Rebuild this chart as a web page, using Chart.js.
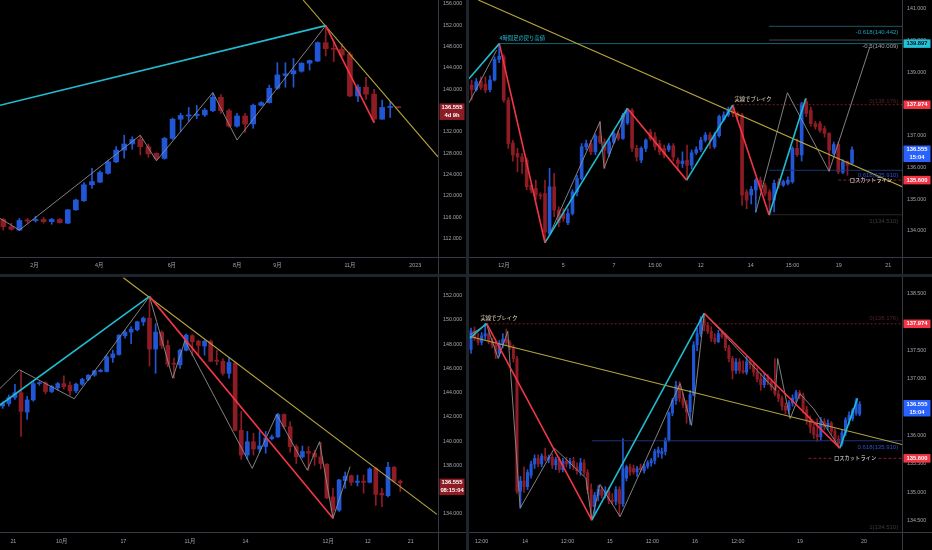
<!DOCTYPE html>
<html><head><meta charset="utf-8">
<script src="https://cdn.jsdelivr.net/npm/chart.js@4.4.1/dist/chart.umd.min.js"></script>
<style>
html,body{margin:0;padding:0;background:#20242d;width:932px;height:550px;overflow:hidden}
.p{position:absolute;background:#000}
.p canvas{display:block}
</style></head><body>
<div class="p" style="left:0;top:0;width:466px;height:274px"><canvas id="cTL" width="466" height="274"></canvas></div>
<div class="p" style="left:469px;top:0;width:463px;height:274px"><canvas id="cTR" width="463" height="274"></canvas></div>
<div class="p" style="left:0;top:277px;width:466px;height:273px"><canvas id="cBL" width="466" height="273"></canvas></div>
<div class="p" style="left:469px;top:277px;width:463px;height:273px"><canvas id="cBR" width="463" height="273"></canvas></div>
<script>
// ===== Weekly (top-left) =====
const tlOpen=[115.6,114.25,113.6,115.5,115.4,115.6,115.2,115.6,114.9,117.4,119.1,122.1,122.6,124.25,126.4,128.6,129.75,130.6,129.25,128.0,127.06,130.8,134.4,135.0,135.1,135.2,136.0,138.5,136.0,133.1,135.0,133.5,137.0,137.5,140.2,142.6,142.9,143.4,144.9,145.3,148.75,147.7,147.5,146.6,138.75,140.4,139.1,134.4,136.6,136.6];
const tlHigh=[115.8,114.9,115.8,115.8,116.2,116.0,115.8,115.8,117.5,119.4,122.5,125.2,124.7,126.75,129.25,131.4,131.1,131.25,129.75,128.1,131.0,134.6,135.5,136.6,137.0,136.4,139.25,139.0,136.3,135.5,135.5,137.25,137.7,140.8,145.0,145.0,145.8,145.0,145.5,148.9,151.95,148.9,148.6,147.0,140.9,142.25,140.0,138.0,137.7,136.7];
const tlLow=[113.6,113.6,113.5,114.9,115.1,114.9,114.7,114.9,114.8,117.3,119.0,121.4,122.5,124.1,126.25,127.1,128.75,127.7,127.25,126.75,126.9,130.6,132.1,134.0,134.5,134.9,135.8,135.5,132.9,132.9,131.9,132.7,136.9,137.4,140.0,140.4,140.4,143.2,143.6,145.2,146.25,145.2,146.1,138.6,137.7,138.1,133.75,134.4,134.7,136.5];
const tlClose=[114.25,113.75,115.4,115.3,115.6,115.2,115.6,115.0,117.4,119.25,122.1,122.7,124.4,126.4,128.6,129.75,130.6,129.25,127.9,127.0,130.8,134.4,135.1,135.2,135.3,136.1,138.5,136.0,133.1,135.0,133.5,137.0,137.5,140.2,142.7,142.9,143.5,144.9,145.4,148.75,147.6,147.5,146.4,138.75,140.4,139.1,134.4,136.6,136.75,136.555];
const tlXTicks=[3.85,11.9,20.9,29.0,34.0,43.0,51.1];
const tlXLabels=['2月','4月','6月','8月','9月','11月','2023'];
const tlYTicks=[112,116,120,124,128,132,136,140,144,148,152,156];
const tlSwing=[[-0.41,137.0],[40,151.95],[46,133.75]];
const tlTrend=[[37.2,156.75],[53.93,127.35]];
const tlGray=[[-0.41,115.8],[2,113.6],[17,131.4],[19,126.6],[26,139.4],[29,130.5],[40,151.95]];

// ===== 4h (top-right) =====
const trOpen=[138.59,138.45,138.72,138.62,138.45,138.75,139.40,139.48,138.12,136.77,136.44,136.33,136.23,135.44,135.34,135.13,135.18,133.92,135.39,134.66,134.55,134.26,134.55,135.23,135.65,136.65,136.75,136.49,136.99,136.80,136.44,136.80,137.07,136.91,137.40,137.80,136.60,136.23,136.60,137.12,136.96,136.75,136.60,136.56,136.68,136.23,136.12,136.23,136.07,136.46,136.56,136.86,137.02,136.65,137.00,137.50,137.65,137.90,137.70,137.65,135.23,135.13,135.29,135.60,135.44,135.23,134.97,135.55,135.44,135.50,135.55,136.60,136.39,138.07,137.80,137.38,137.38,137.22,137.07,136.44,136.72,135.85,136.18,136.13];
const trHigh=[138.75,138.80,138.85,138.85,138.88,139.48,139.90,139.55,138.20,136.85,136.60,136.44,136.30,135.50,135.60,135.20,135.60,135.97,135.81,134.76,134.70,134.70,135.30,135.75,136.75,136.86,136.86,137.05,137.44,136.90,136.90,137.15,137.15,137.70,137.86,137.85,136.70,136.65,136.90,137.20,137.10,136.85,136.70,136.75,136.75,136.30,136.49,136.70,136.55,136.65,136.95,137.10,137.10,137.10,137.65,137.75,137.90,137.96,137.75,137.70,135.30,135.40,135.65,135.70,135.50,135.30,135.60,135.65,135.60,135.70,136.65,136.90,138.05,138.17,137.90,137.45,137.45,137.30,137.10,136.80,136.80,136.25,136.20,136.65];
const trLow=[138.12,138.40,138.45,138.35,138.38,138.72,139.30,138.05,136.60,136.20,135.86,135.81,135.30,135.20,134.97,135.00,133.63,133.87,134.45,134.13,134.30,134.20,134.50,135.10,135.60,136.55,136.40,136.40,136.75,135.97,136.35,136.75,136.85,136.88,137.35,136.50,136.20,136.15,136.50,136.85,136.55,136.40,136.30,136.50,136.20,135.90,136.00,135.60,135.95,136.40,136.50,136.80,136.60,136.60,136.95,137.45,137.60,137.60,137.45,134.80,134.70,134.85,134.59,135.30,135.10,134.50,134.60,135.35,135.40,135.45,135.50,136.35,136.20,137.60,137.30,137.20,137.10,136.95,135.88,136.40,135.80,135.80,135.75,136.10];
const trClose=[138.45,138.70,138.52,138.43,138.75,139.40,139.50,138.12,136.75,136.39,136.33,136.18,135.39,135.29,135.13,135.10,133.97,135.39,134.66,134.26,134.39,134.55,135.23,135.65,136.65,136.75,136.49,136.99,136.80,136.54,136.80,137.07,136.91,137.65,137.80,136.60,136.33,136.60,136.86,136.91,136.65,136.49,136.39,136.68,136.33,136.12,136.20,136.07,136.46,136.56,136.86,137.02,136.86,137.02,137.60,137.65,137.80,137.70,137.60,135.13,134.97,135.31,135.60,135.39,135.18,134.97,135.50,135.44,135.55,135.60,136.60,136.40,138.00,137.70,137.38,137.28,137.17,137.07,136.54,136.72,135.86,136.18,136.07,136.555];
const trXTicks=[7.05,20.0,31.05,40.0,50.0,60.9,70.0,80.1,90.9];
const trXLabels=['12月','5','7','15:00','12','14','15:00','19','21'];
const trYTicks=[134,135,136,137,138,139,140,141];
const trSwing=[[-0.6,138.79],[6.04,139.897],[16,133.63],[33.96,137.86],[46.9,135.6],[56.95,137.96],[64.9,134.5],[72.9,138.17]];
const trTrend=[[1.45,141.27],[94.0,135.39]];
const trGrayA=[[-0.6,138.03],[5.45,139.69]];
const trGrayB=[[17.1,133.92],[28,137.44],[28.9,135.97],[33.96,137.86]];
const trGrayC=[[62,134.59],[68.9,138.35],[78,135.88],[86.9,139.8]];

// ===== Daily (bottom-left) =====
const blOpen=[142.9,143.1,143.6,144.0,142.4,143.4,144.75,144.8,144.1,144.4,144.75,144.6,144.15,144.7,145.1,145.45,145.75,145.75,146.9,147.15,148.7,149.0,149.2,149.85,150.15,147.6,149.0,147.9,146.4,146.3,147.5,148.7,148.25,147.85,148.25,146.65,146.6,145.6,146.45,140.9,138.85,139.95,139.35,139.55,140.2,140.35,142.2,141.2,139.55,138.7,139.15,139.0,138.7,138.1,135.4,134.3,136.75,137.15,136.6,136.7,136.6,137.75,135.7,135.5,137.85,136.7];
const blHigh=[143.25,143.8,144.7,145.8,143.7,144.9,144.9,144.9,144.6,144.85,145.4,144.9,144.8,145.2,145.5,145.85,145.95,147.1,147.5,148.8,149.15,149.45,149.9,150.25,151.95,149.7,149.1,148.35,146.85,147.6,148.85,148.8,148.35,148.35,148.35,147.5,146.8,146.85,146.55,142.45,140.8,140.65,140.8,140.8,140.5,142.3,142.25,141.6,139.7,139.6,139.55,139.25,139.9,138.15,136.1,136.85,137.45,137.2,137.2,137.2,137.8,137.8,136.1,138.25,137.9,136.8];
const blLow=[142.7,142.9,143.45,140.4,141.8,143.3,144.6,143.9,144.0,144.2,144.3,143.8,144.0,144.6,145.0,145.35,145.7,145.7,146.5,147.1,148.5,148.05,149.1,149.55,146.2,145.6,147.65,146.15,145.2,146.0,147.45,147.05,147.1,147.1,146.55,146.3,145.45,145.2,140.85,138.5,138.5,138.85,139.1,139.0,140.1,140.3,141.05,139.1,138.15,138.6,137.6,138.0,137.7,135.25,133.63,134.2,136.1,136.35,136.3,135.7,136.55,134.7,134.6,135.4,136.6,135.85];
const blClose=[143.1,143.6,144.0,142.45,143.4,144.75,144.8,144.1,144.5,144.75,144.5,144.15,144.7,145.1,145.45,145.8,145.85,146.95,147.2,148.75,149.0,149.25,149.85,150.15,147.6,149.0,147.9,146.35,146.35,147.5,148.75,148.2,147.9,148.25,146.6,146.6,145.6,146.5,140.9,138.85,139.95,139.35,139.6,140.25,140.35,142.2,141.2,139.55,138.7,139.15,139.0,138.7,138.15,135.3,134.3,136.8,137.1,136.6,136.7,136.6,137.7,135.6,135.55,137.85,136.7,136.555];
const blXTicks=[1.74,9.65,19.73,30.6,39.7,53.2,59.7,66.7];
const blXLabels=['21','10月','17','11月','14','12月','12','21'];
const blYTicks=[134,136,138,140,142,144,146,148,150,152];
const blSwing=[[-0.44,142.98],[24,151.95],[54,133.63]];
const blTrend=[[19.73,153.49],[71.0,133.95]];
const blGray=[[-0.44,144.35],[2.7,145.9],[11.7,143.5],[24,151.95],[27.8,145.2],[29.8,148.3],[40.8,137.75],[44.8,142.2],[49.8,137.6],[51.8,139.95],[54,133.63],[56.8,137.9]];

// ===== 1h (bottom-right) =====
const brOpen=[137.52,137.85,137.72,137.65,137.76,137.80,137.66,137.60,137.45,137.62,137.70,137.64,137.56,137.36,135.02,135.20,135.10,135.30,135.50,135.60,135.50,135.64,135.58,135.62,135.48,135.58,135.40,135.55,135.50,135.55,135.45,135.38,135.52,135.35,135.05,134.75,134.95,135.05,134.95,135.02,134.86,134.84,135.05,134.80,135.25,135.45,135.42,135.36,135.44,135.38,135.46,135.52,135.56,135.70,135.68,135.72,135.92,136.40,136.62,136.88,136.66,136.55,136.42,136.72,137.60,137.80,138.05,137.95,137.84,137.72,137.66,137.80,137.75,137.55,137.36,137.15,137.30,137.15,137.12,137.30,137.25,137.12,137.00,136.90,137.02,136.95,136.86,136.74,136.66,136.52,136.45,136.58,136.66,136.76,136.70,136.46,136.28,136.15,136.02,135.98,136.25,136.16,136.22,136.08,135.94,135.86,136.05,136.28,136.30,136.40,136.38];
const brHigh=[137.90,137.92,137.80,137.82,137.98,137.85,137.72,137.66,137.68,137.80,137.88,137.68,137.60,137.40,135.28,135.45,135.40,135.55,135.66,135.66,135.68,135.78,135.66,135.68,135.62,135.62,135.60,135.62,135.60,135.62,135.52,135.60,135.58,135.40,135.15,135.00,135.12,135.10,135.10,135.08,134.98,135.10,135.10,135.95,135.48,135.50,135.48,135.46,135.50,135.50,135.56,135.60,135.76,135.80,135.78,135.96,136.42,136.66,136.96,136.95,136.75,136.62,136.80,137.66,137.90,138.10,138.16,138.00,137.92,137.80,137.86,137.86,137.80,137.60,137.40,137.36,137.36,137.32,137.40,137.36,137.28,137.20,137.10,137.10,137.08,137.00,137.36,136.80,136.70,136.58,136.62,136.72,136.80,136.80,136.75,136.52,136.35,136.22,136.30,136.32,136.30,136.28,136.25,136.12,136.00,136.10,136.32,136.42,136.48,136.66,136.60];
const brLow=[137.45,137.68,137.60,137.60,137.70,137.62,137.55,137.36,137.40,137.55,137.60,137.52,137.30,134.98,134.72,135.00,135.05,135.25,135.42,135.45,135.45,135.55,135.52,135.42,135.40,135.35,135.36,135.45,135.42,135.40,135.32,135.30,135.30,134.98,134.51,134.62,134.85,134.90,134.90,134.80,134.80,134.78,134.58,134.75,135.20,135.30,135.32,135.28,135.36,135.34,135.42,135.46,135.50,135.62,135.60,135.66,135.90,136.35,136.55,136.60,136.50,136.22,136.20,136.70,137.50,137.75,137.85,137.80,137.66,137.62,137.64,137.72,137.50,137.30,137.00,137.10,137.10,137.10,137.08,137.18,137.05,136.95,136.80,136.85,136.90,136.80,136.70,136.60,136.45,136.38,136.38,136.52,136.60,136.65,136.40,136.20,136.05,135.95,135.90,135.92,136.10,136.10,136.02,135.88,135.78,135.82,136.00,136.20,136.26,136.36,136.35];
const brClose=[137.85,137.72,137.65,137.76,137.80,137.66,137.60,137.45,137.62,137.70,137.64,137.56,137.36,135.02,135.20,135.10,135.35,135.50,135.60,135.50,135.64,135.58,135.62,135.48,135.58,135.40,135.55,135.50,135.55,135.45,135.38,135.52,135.35,135.05,134.75,134.95,135.05,134.95,135.02,134.86,134.84,135.05,134.80,135.42,135.45,135.36,135.36,135.42,135.40,135.46,135.52,135.56,135.72,135.75,135.72,135.92,136.40,136.62,136.88,136.66,136.55,136.42,136.72,137.60,137.80,138.05,137.95,137.84,137.72,137.66,137.80,137.75,137.55,137.36,137.15,137.30,137.15,137.12,137.30,137.25,137.12,137.00,136.90,137.02,136.95,136.86,136.74,136.66,136.52,136.45,136.58,136.66,136.76,136.70,136.46,136.28,136.15,136.02,135.98,136.25,136.16,136.22,136.08,135.94,135.86,136.05,136.28,136.36,136.45,136.62,136.555];
const brXTicks=[3.0,15.3,27.3,39.3,51.3,63.4,75.5,93.1,111.2];
const brXLabels=['12:00','14','12:00','15','12:00','16','12:00','19','20'];
const brYTicks=[134.5,135,135.5,136,136.5,137,137.5,138,138.5];
const brSwing=[[-0.3,137.72],[4.4,137.98],[34.2,134.51],[66,138.16],[104.4,135.78],[109.4,136.66]];
const brTrend=[[-0.3,137.75],[122.2,135.84]];
const brGray=[[-0.3,137.78],[4.4,137.96],[7.7,137.36],[10.4,137.84],[13.9,134.72],[23.6,135.78],[32.5,135.25],[34.2,134.51],[36.5,135.14],[42.2,134.57],[59.2,136.92],[62.4,136.18],[66,138.16],[70.5,137.86],[86.2,136.8],[86.8,137.36],[90.3,136.3],[93.1,136.74],[96.9,136.48],[104.4,135.78]];

// ===== shared levels =====
const lastPrice=136.555;
const retHigh=139.897;
const breakLevel=137.974;
const stopLevel=135.600;
const fibM618=140.442, fibM05=140.009, fib0=138.176, fib618=135.910, fib1=134.510;

// ===== styling =====
const UP='#2157d6', DN='#8e1c24', CYAN='#22bcd0', RED='#f23645', YEL='#b8a63c', GRAY='#8f8f8f';
const AXIS_TXT='#a3a6af', SEP='#363a45';
const NUM_FONT='"Liberation Sans", "Noto Sans CJK JP", Arial, sans-serif';
const JP_FONT='"Noto Sans CJK JP", "Noto Sans CJK SC", sans-serif';
const JP5='5.3px '+JP_FONT, NUM6='6px '+NUM_FONT;

function pts(a){return a.map(p=>({x:p[0],y:p[1]}));}
function line(a,color,w,dash,order){return {type:'line',data:pts(a),borderColor:color,borderWidth:w,borderDash:dash||[],pointRadius:0,pointHoverRadius:0,fill:false,tension:0,order:order||1};}
function swing(a){const out=[];for(let j=0;j<a.length-1;j++){out.push(line([a[j],a[j+1]],a[j+1][1]>a[j][1]?CYAN:RED,1.6,null,1));}return out;}
function hline(v,x0,x1,color,dash){return line([[x0,v],[x1,v]],color,1,dash,5);}
function noPad(s){s.paddingTop=0;s.paddingBottom=0;s.paddingLeft=0;s.paddingRight=0;}

function overlay(P){
  return {
    id:'ov',
    afterDatasetsDraw(chart){
      const {ctx,chartArea:a,scales:{x,y}}=chart;
      ctx.save();
      ctx.beginPath();ctx.rect(a.left,a.top,a.right-a.left,a.bottom-a.top);ctx.clip();
      ctx.textBaseline='middle';
      for(const t of P.texts){
        ctx.font=t.font;ctx.textAlign=t.align;
        const px=x.getPixelForValue(t.x),py=y.getPixelForValue(t.y);
        if(t.bg){const w=ctx.measureText(t.t).width;const lx=t.align==='center'?px-w/2:(t.align==='right'?px-w:px);ctx.fillStyle=t.bg;ctx.fillRect(lx-2,py-3.5,w+4,7);}
        ctx.fillStyle=t.color;ctx.fillText(t.t,px,py);
      }
      ctx.restore();
    },
    afterDraw(chart){
      const {ctx,chartArea:a,scales:{y},width,height}=chart;
      ctx.save();
      ctx.strokeStyle=SEP;ctx.lineWidth=1;
      const rx=Math.round(a.right)+0.5,by=Math.round(a.bottom)+0.5;
      ctx.beginPath();ctx.moveTo(rx,0);ctx.lineTo(rx,height);ctx.moveTo(0,by);ctx.lineTo(width,by);ctx.stroke();
      ctx.textAlign='center';ctx.textBaseline='middle';
      for(const b of P.boxes){
        const py=y.getPixelForValue(b.v);
        const h=b.lines.length>1?16.5:8.5;
        ctx.fillStyle=b.bg;ctx.fillRect(a.right+1.5,py-4.25,width-a.right-3,h);
        ctx.fillStyle=b.fg;ctx.font='bold 5.8px '+NUM_FONT;
        b.lines.forEach((s,j)=>ctx.fillText(s,(a.right+1.5+width-1.5)/2,py+j*8));
      }
      ctx.restore();
    }
  };
}

function build(id,P){
  const n=P.open.length,col=[],wick=[],body=[];
  for(let i=0;i<n;i++){
    const o=P.open[i],c=P.close[i];
    col.push(c>=o?UP:DN);
    wick.push({x:i,y:[P.low[i],P.high[i]]});
    body.push({x:i,y:[Math.min(o,c),Math.max(o,c)]});
  }
  const ds=[
    {type:'bar',data:wick,backgroundColor:col,barThickness:1,grouped:false,order:20,minBarLength:1,borderWidth:0},
    {type:'bar',data:body,backgroundColor:col,barThickness:P.bodyW,grouped:false,order:19,minBarLength:1,borderWidth:0}
  ].concat(P.lines);
  return new Chart(document.getElementById(id),{
    type:'bar',data:{datasets:ds},
    options:{
      responsive:false,animation:false,events:[],
      layout:{padding:0},
      plugins:{legend:{display:false},tooltip:{enabled:false}},
      scales:{
        x:{type:'linear',min:P.xMin,max:P.xMax,offset:false,
          grid:{display:false,offset:false,drawTicks:false},border:{display:false},
          afterBuildTicks:s=>{s.ticks=P.xTicks.map(v=>({value:v}));},
          afterFit:s=>{s.height=P.xH;noPad(s);},
          ticks:{autoSkip:false,maxRotation:0,minRotation:0,padding:P.xPad,color:AXIS_TXT,font:{family:NUM_FONT,size:5.3},callback:(v,i)=>P.xLabels[i]}},
        y:{type:'linear',position:'right',min:P.yMin,max:P.yMax,beginAtZero:false,
          grid:{display:false,drawTicks:false},border:{display:false},
          afterBuildTicks:s=>{s.ticks=P.yTicks.map(v=>({value:v}));},
          afterFit:s=>{s.width=P.yW;noPad(s);},
          ticks:{autoSkip:false,padding:5,color:AXIS_TXT,font:{family:NUM_FONT,size:5.3},callback:v=>v.toFixed(3)}}
      }
    },
    plugins:[overlay(P)]
  });
}

// Top-left weekly
build('cTL',{open:tlOpen,high:tlHigh,low:tlLow,close:tlClose,bodyW:5,
  xMin:-0.41,xMax:53.93,yMin:108.56,yMax:156.75,xH:17,yW:28,xPad:5,
  xTicks:tlXTicks,xLabels:tlXLabels,yTicks:tlYTicks,
  lines:[line(tlGray,GRAY,0.9,null,3),line(tlTrend,YEL,1.1,null,2)].concat(swing(tlSwing)),
  texts:[],
  boxes:[{v:lastPrice,lines:[lastPrice.toFixed(3),'4d 9h'],bg:'#8c1d24',fg:'#ffffff'}]});

// Top-right 4h
build('cTR',{open:trOpen,high:trHigh,low:trLow,close:trClose,bodyW:3,
  xMin:-0.58,xMax:93.9,yMin:133.18,yMax:141.27,xH:17,yW:30,xPad:5,
  xTicks:trXTicks,xLabels:trXLabels,yTicks:trYTicks,
  lines:[
    hline(retHigh,6.04,93.9,'rgba(34,188,208,0.55)'),
    hline(fibM618,64.9,93.9,'#1d5561'),
    hline(fibM05,64.9,93.9,'#3e4a55'),
    hline(breakLevel,56.95,93.9,'#7b1b22',[2,2]),
    hline(fib618,64.9,93.9,'#1c3478'),
    hline(fib1,64.9,93.9,'#262626'),
    hline(stopLevel,80,93.9,'#8a1e25',[3,2]),
    line(trGrayA,GRAY,0.9,null,3),line(trGrayB,GRAY,0.9,null,3),line(trGrayC,GRAY,0.9,null,3),
    line(trTrend,YEL,1.1,null,2)
  ].concat(swing(trSwing)),
  texts:[
    {t:'4時間足の戻り高値',x:6.1,y:140.08,align:'left',color:'#26c6da',font:JP5},
    {t:'実線でブレイク',x:61.4,y:138.16,align:'center',color:'#e8dcc0',font:JP5},
    {t:'-0.618('+fibM618.toFixed(3)+')',x:93.1,y:140.25,align:'right',color:'#1f9fb3',font:NUM6},
    {t:'-0.5('+fibM05.toFixed(3)+')',x:93.1,y:139.80,align:'right',color:'#a0a0a0',font:NUM6},
    {t:'0('+fib0.toFixed(3)+')',x:93.1,y:138.08,align:'right',color:'#4d2226',font:NUM6},
    {t:'0.618('+fib618.toFixed(3)+')',x:93.1,y:135.74,align:'right',color:'#2c52c9',font:NUM6},
    {t:'1('+fib1.toFixed(3)+')',x:93.1,y:134.29,align:'right',color:'#3c3c3c',font:NUM6},
    {t:'ロスカットライン',x:87.1,y:stopLevel,align:'center',color:'#e6e6e6',font:JP5}
  ],
  boxes:[
    {v:retHigh,lines:[retHigh.toFixed(3)],bg:'#22c3d8',fg:'#0c1017'},
    {v:breakLevel,lines:[breakLevel.toFixed(3)],bg:'#f23645',fg:'#ffffff'},
    {v:lastPrice,lines:[lastPrice.toFixed(3),'15:04'],bg:'#2962ff',fg:'#ffffff'},
    {v:stopLevel,lines:[stopLevel.toFixed(3)],bg:'#f23645',fg:'#ffffff'}
  ]});

// Bottom-left daily
build('cBL',{open:blOpen,high:blHigh,low:blLow,close:blClose,bodyW:4,
  xMin:-0.44,xMax:71.17,yMin:132.50,yMax:153.55,xH:18,yW:28,xPad:6,
  xTicks:blXTicks,xLabels:blXLabels,yTicks:blYTicks,
  lines:[line(blGray,GRAY,0.9,null,3),line(blTrend,YEL,1.1,null,2)].concat(swing(blSwing)),
  texts:[],
  boxes:[{v:lastPrice,lines:[lastPrice.toFixed(3),'08:15:04'],bg:'#8c1d24',fg:'#ffffff'}]});

// Bottom-right 1h
build('cBR',{open:brOpen,high:brHigh,low:brLow,close:brClose,bodyW:2.4,
  xMin:-0.57,xMax:121.98,yMin:134.30,yMax:138.80,xH:18,yW:30,xPad:6,
  xTicks:brXTicks,xLabels:brXLabels,yTicks:brYTicks,
  lines:[
    hline(breakLevel,4.4,122,'#7b1b22',[2,2]),
    hline(fib618,34.2,122,'#1c3478'),
    hline(stopLevel,95.5,122,'#8a1e25',[3,2]),
    line(brGray,GRAY,0.9,null,3),
    line(brTrend,YEL,1.1,null,2)
  ].concat(swing(brSwing)),
  texts:[
    {t:'実線でブレイク',x:7.9,y:138.07,align:'center',color:'#e8dcc0',font:JP5},
    {t:'0('+fib0.toFixed(3)+')',x:120.9,y:138.07,align:'right',color:'#4d2226',font:NUM6},
    {t:'0.618('+fib618.toFixed(3)+')',x:120.9,y:135.79,align:'right',color:'#2c52c9',font:NUM6},
    {t:'1('+fib1.toFixed(3)+')',x:120.9,y:134.39,align:'right',color:'#3c3c3c',font:NUM6},
    {t:'ロスカットライン',x:108.7,y:stopLevel,align:'center',color:'#e6e6e6',font:JP5,bg:'#000000'}
  ],
  boxes:[
    {v:breakLevel,lines:[breakLevel.toFixed(3)],bg:'#f23645',fg:'#ffffff'},
    {v:lastPrice,lines:[lastPrice.toFixed(3),'15:04'],bg:'#2962ff',fg:'#ffffff'},
    {v:stopLevel,lines:[stopLevel.toFixed(3)],bg:'#f23645',fg:'#ffffff'}
  ]});
</script>
</body></html>
